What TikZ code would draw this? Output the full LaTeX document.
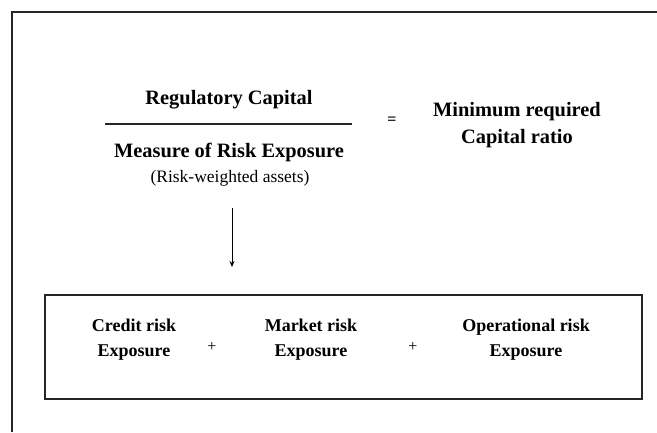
\documentclass[tikz,border=0pt]{standalone}
\usepackage{fontspec}
\setmainfont{Liberation Serif}
\usetikzlibrary{arrows.meta}
\begin{document}
\begin{tikzpicture}[x=1pt,y=-1pt,
  big/.style={font=\fontsize{20.4}{27}\selectfont\bfseries, inner sep=0pt, anchor=base},
  small/.style={font=\fontsize{17.5}{22}\selectfont, inner sep=0pt, anchor=base},
  item/.style={font=\fontsize{18}{25}\selectfont\bfseries, align=center, inner sep=0pt},
  plus/.style={font=\fontsize{16}{18}\selectfont, inner sep=0pt},
  frame/.style={line width=2.8pt, black!85},
  boxline/.style={line width=2.8pt, black!85}]
\useasboundingbox (0,0) rectangle (657,432);
% outer frame (left and top)
\coordinate (fl) at (12,432);
\coordinate (ft) at (12,12);
\coordinate (fr) at (657,12);
\draw[frame] (fl) -- (ft) -- (fr);
% fraction
\node[big] (num) at (229,104) {Regulatory Capital};
\coordinate (barL) at (105,124);
\coordinate (barR) at (352,124);
\draw[line width=2pt, black!85] (barL) -- (barR);
\node[big] (den) at (229,157) {Measure of Risk Exposure};
\node[small] (rwa) at (230,182) {(Risk-weighted assets)};
\node[plus, font=\fontsize{16}{18}\selectfont\bfseries] (eq) at (392,121) {=};
\node[align=center, inner sep=0pt, font=\fontsize{20.4}{27}\selectfont\bfseries] (res) at (517,125.5) {Minimum required\\Capital ratio};
% box
\node[draw, boxline, minimum width=597pt, minimum height=104pt, inner sep=0pt] (box) at (343.5,347) {};
\coordinate (arrTop) at (232,208);
\draw[-{Stealth[length=6pt,width=5pt]}, line width=0.9pt] (arrTop) -- (232,267) coordinate (arrEnd);
\node[item] (credit) at (134,340) {Credit risk\\Exposure};
\node[plus] (p1) at (212,347) {+};
\node[item] (market) at (311,340) {Market risk\\Exposure};
\node[plus] (p2) at (413,347) {+};
\node[item] (oper) at (526,340) {Operational risk\\Exposure};
\end{tikzpicture}
\end{document}
